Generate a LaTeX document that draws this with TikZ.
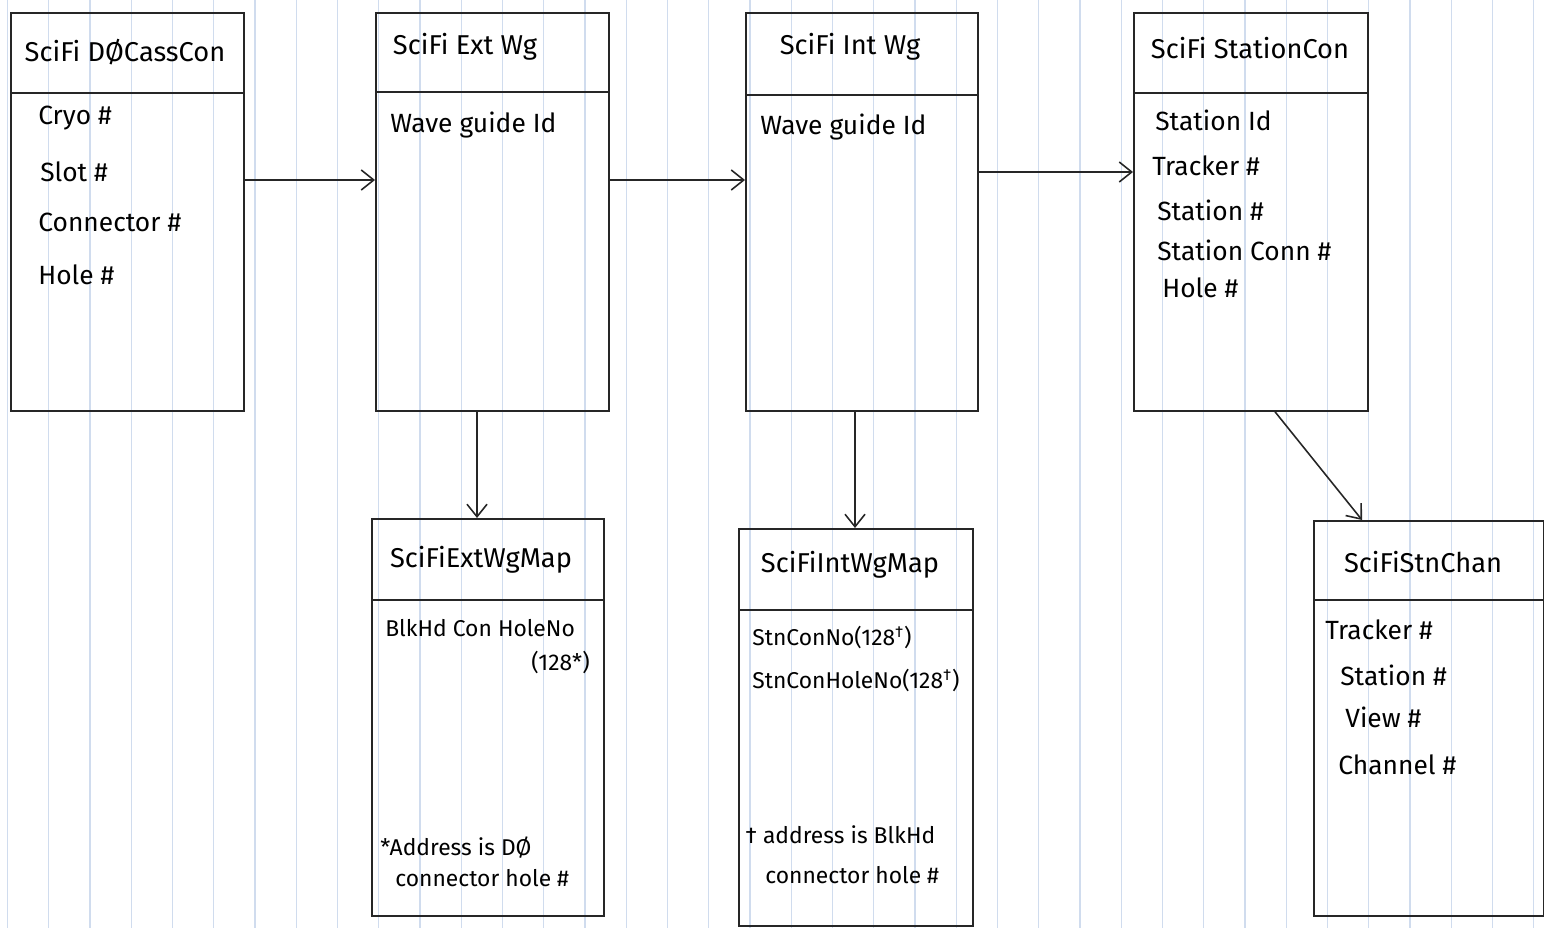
\documentclass[tikz,border=0pt]{standalone}
\usepackage{fontspec}
\setmainfont{Fira Sans}
\usetikzlibrary{arrows.meta,positioning}
\definecolor{paperline}{RGB}{208,220,238}
\begin{document}
\begin{tikzpicture}[
  x=0.2mm, y=-0.2mm,
  font=\fontsize{15}{17}\selectfont,
  tbl/.style={draw=black!85, line width=1pt, anchor=north west, inner sep=0pt},
  sep/.style={draw=black!85, line width=1pt},
  ttl/.style={font=\fontsize{15.5}{17}\selectfont},
  fld/.style={anchor=west, inner sep=0pt},
  note/.style={anchor=west, inner sep=0pt, font=\fontsize{13}{15}\selectfont},
  arr/.style={line width=0.9pt, draw=black!85, -{Straight Barb[length=2.5mm,width=4mm]}},
  ruling/.style={draw=paperline, line width=0.6pt}
]
\useasboundingbox (0,0) rectangle (1544,928);

% ruled paper
\foreach \k in {0,...,37}
  \draw[ruling] (7.5+41.25*\k,0) -- (7.5+41.25*\k,928);

% ===================== top row =====================
\node[tbl, minimum width=46.6mm, minimum height=79.6mm] (cass)  at (10,12)   {};
\node[tbl, minimum width=46.6mm, minimum height=79.6mm] (extwg) at (375,12)  {};
\node[tbl, minimum width=46.4mm, minimum height=79.6mm] (intwg) at (745,12)  {};
\node[tbl, minimum width=46.8mm, minimum height=79.6mm] (stcon) at (1133,12) {};

\draw[sep] ([yshift=-16.2mm]cass.north west)  -- ([yshift=-16.2mm]cass.north east);
\draw[sep] ([yshift=-16mm]extwg.north west)   -- ([yshift=-16mm]extwg.north east);
\draw[sep] ([yshift=-16.6mm]intwg.north west) -- ([yshift=-16.6mm]intwg.north east);
\draw[sep] ([yshift=-16.2mm]stcon.north west) -- ([yshift=-16.2mm]stcon.north east);

\node[ttl] (cassT)  at (125,52)  {SciFi DØCassCon};
\node[ttl] (extwgT) at (465,47)  {SciFi Ext Wg};
\node[ttl] (intwgT) at (850,47)  {SciFi Int Wg};
\node[ttl] (stconT) at (1250,48) {SciFi StationCon};

% fields
\node[fld] (cryo) at (38,118)  {Cryo \#};
\node[fld] (slot) at (40,172)  {Slot \#};
\node[fld] (conn) at (38,222)  {Connector \#};
\node[fld] (hole) at (38,275)  {Hole \#};

\node[fld] (extid) at (390,125) {Wave guide Id};
\node[fld] (intid) at (760,127) {Wave guide Id};

\node[fld] (stid)   at (1155,120) {Station Id};
\node[fld] (sttrk)  at (1152,166) {Tracker \#};
\node[fld] (ststn)  at (1157,210) {Station \#};
\node[fld] (stconn) at (1157,250) {Station Conn \#};
\node[fld] (sthole) at (1162,288) {Hole \#};

% ===================== bottom row =====================
\node[tbl, minimum width=46.4mm, minimum height=79.4mm] (extmap) at (371,518)  {};
\node[tbl, minimum width=46.8mm, minimum height=79.4mm] (intmap) at (738,528)  {};
\node[tbl, minimum width=46mm,   minimum height=79mm]   (chan)   at (1313,520) {};

\draw[sep] ([yshift=-16.4mm]extmap.north west) -- ([yshift=-16.4mm]extmap.north east);
\draw[sep] ([yshift=-16.4mm]intmap.north west) -- ([yshift=-16.4mm]intmap.north east);
\draw[sep] ([yshift=-16mm]chan.north west)     -- ([yshift=-16mm]chan.north east);

\node[ttl] (extmapT) at (481,560)  {SciFiExtWgMap};
\node[ttl] (intmapT) at (850,565)  {SciFiIntWgMap};
\node[ttl] (chanT)   at (1423,562) {SciFiStnChan};

\node[note] (bhcon) at (385,628) {BlkHd Con HoleNo};
\node[note, anchor=east] (bhnum) at (590,662) {(128*)};
\node[note] (extn1) at (380,848) {*Address is DØ};
\node[note] (extn2) at (395,878) {connector hole \#};

\node[note] (scno)  at (752,637) {StnConNo(128\textsuperscript{\textdagger})};
\node[note] (schno) at (752,680) {StnConHoleNo(128\textsuperscript{\textdagger})};
\node[note] (intn1) at (745,835) {\textdagger\ address is BlkHd};
\node[note] (intn2) at (765,875) {connector hole \#};

\node[fld] (chtrk)  at (1325,630) {Tracker \#};
\node[fld] (chstn)  at (1340,675) {Station \#};
\node[fld] (chview) at (1345,717) {View \#};
\node[fld] (chchan) at (1338,765) {Channel \#};

% ===================== links =====================
\coordinate (rowA) at (0,180);
\coordinate (rowB) at (0,172);
\coordinate (colA) at (477,0);
\coordinate (colB) at (855,0);
\coordinate (colC) at (1275,0);
\coordinate (colD) at (1362,0);

\draw[arr] (cass.east |- rowA)  -- (extwg.west |- rowA);
\draw[arr] (extwg.east |- rowA) -- (intwg.west |- rowA);
\draw[arr] (intwg.east |- rowB) -- (stcon.west |- rowB);

\draw[arr] (extwg.south -| colA) -- (extmap.north -| colA);
\draw[arr] (intwg.south -| colB) -- (intmap.north -| colB);
\draw[arr] (stcon.south -| colC) -- (chan.north -| colD);

\end{tikzpicture}
\end{document}
